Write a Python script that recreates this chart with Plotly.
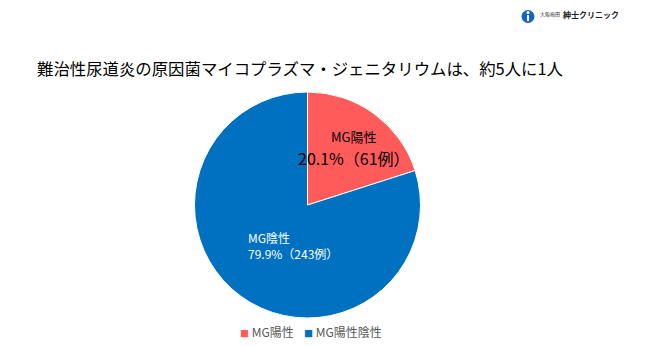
import plotly.graph_objects as go

# Data
legend_labels = ["MG陽性", "MG陽性陰性"]
slice_names = ["MG陽性", "MG陰性"]
percents = [20.1, 79.9]
cases = [61, 243]
colors = ["#FF5B5B", "#0070C0"]
title_text = "難治性尿道炎の原因菌マイコプラズマ・ジェニタリウムは、約5人に1人"
logo_small = "大阪梅田"
logo_big = "紳士クリニック"

W, H = 650, 347
FONT = "Noto Sans CJK JP"

def px(x):
    return x / W

def py(y):
    return 1 - y / H

fig = go.Figure()
fig.add_trace(go.Pie(
    labels=legend_labels,
    values=cases,
    marker=dict(colors=colors, line=dict(color="white", width=1)),
    sort=False,
    direction="clockwise",
    rotation=0,
    textinfo="none",
    hoverinfo="label+percent",
    showlegend=False,
    domain=dict(x=[px(194), px(421)], y=[py(318), py(92)]),
))

ann = []
# Title
ann.append(dict(x=px(35), y=py(68), xref="paper", yref="paper", xanchor="left", yanchor="middle",
                text=title_text, showarrow=False, font=dict(family=FONT, size=16.4, color="#000000")))
# Positive label
ann.append(dict(x=px(354), y=py(136), xref="paper", yref="paper", xanchor="center", yanchor="middle",
                text=slice_names[0], showarrow=False, font=dict(family=FONT, size=13, color="#000000")))
ann.append(dict(x=px(354), y=py(158), xref="paper", yref="paper", xanchor="center", yanchor="middle",
                text=f"{percents[0]}%（{cases[0]}例）", showarrow=False,
                font=dict(family=FONT, size=16, color="#000000")))
# Negative label
ann.append(dict(x=px(246), y=py(237), xref="paper", yref="paper", xanchor="left", yanchor="middle",
                text=slice_names[1], showarrow=False, font=dict(family=FONT, size=12, color="#FFFFFF")))
ann.append(dict(x=px(246), y=py(253), xref="paper", yref="paper", xanchor="left", yanchor="middle",
                text=f"{percents[1]}%（{cases[1]}例）", showarrow=False,
                font=dict(family=FONT, size=12, color="#FFFFFF")))
# Legend
leg_x = [238, 302]
for i in range(2):
    ann.append(dict(x=px(leg_x[i]), y=py(331), xref="paper", yref="paper", xanchor="left", yanchor="middle",
                    text=f"<span style='color:{colors[i]};font-size:9px'>■</span> {legend_labels[i]}",
                    showarrow=False,
                    font=dict(family=FONT, size=12, color="#595959")))
# Logo text
ann.append(dict(x=px(538), y=py(14), xref="paper", yref="paper", xanchor="left", yanchor="middle",
                text=logo_small, showarrow=False, font=dict(family=FONT, size=5, color="#333333")))
ann.append(dict(x=px(561), y=py(14), xref="paper", yref="paper", xanchor="left", yanchor="middle",
                text=f"<b>{logo_big}</b>", showarrow=False, font=dict(family=FONT, size=8, color="#222222")))

shapes = [
    dict(type="circle", xref="paper", yref="paper", x0=px(521.5), x1=px(534.5), y0=py(23), y1=py(10),
         fillcolor="#1565C0", line=dict(width=0)),
    dict(type="rect", xref="paper", yref="paper", x0=px(527), x1=px(529), y0=py(21), y1=py(15),
         fillcolor="white", line=dict(width=0)),
    dict(type="circle", xref="paper", yref="paper", x0=px(526.5), x1=px(529.5), y0=py(14), y1=py(11),
         fillcolor="white", line=dict(width=0)),
]

fig.update_layout(
    width=W, height=H,
    margin=dict(l=0, r=0, t=0, b=0),
    paper_bgcolor="white", plot_bgcolor="white",
    annotations=ann, shapes=shapes,
    font=dict(family=FONT),
)

fig.write_html("out.html")
